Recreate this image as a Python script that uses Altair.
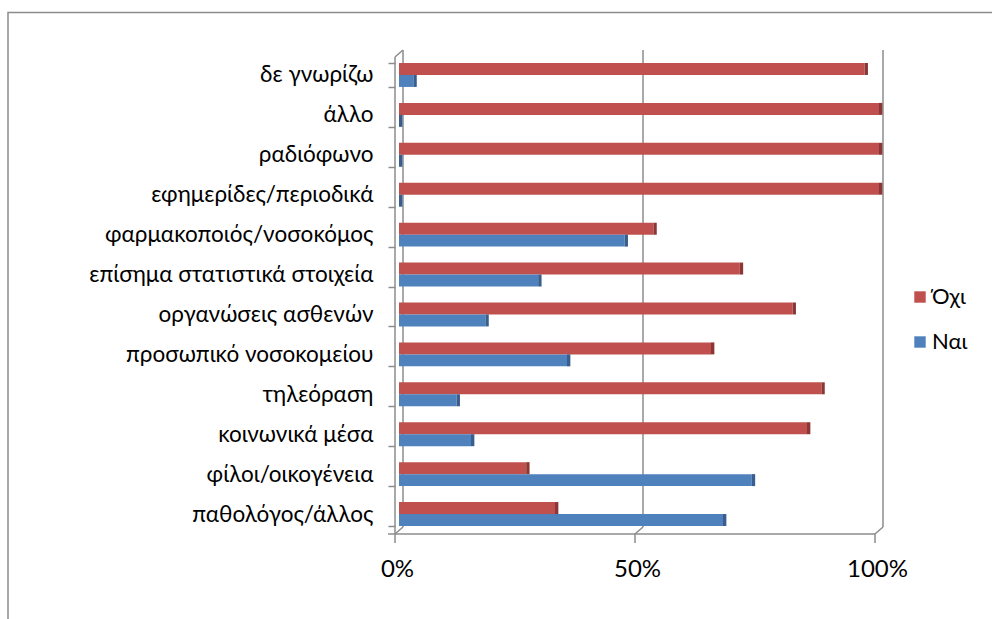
import altair as alt
import pandas as pd

# Sources of information, top to bottom as listed on the chart
categories = [
    "δε γνωρίζω\u00a0",
    "άλλο\u00a0",
    "ραδιόφωνο",
    "εφημερίδες/περιοδικά",
    "φαρμακοποιός/νοσοκόμος",
    "επίσημα στατιστικά στοιχεία",
    "οργανώσεις ασθενών\u00a0",
    "προσωπικό νοσοκομείου",
    "τηλεόραση",
    "κοινωνικά μέσα",
    "φίλοι/οικογένεια",
    "παθολόγος/άλλος",
]
# Percentage of answers per source
yes_share = [3, 0, 0, 0, 47, 29, 18, 35, 12, 15, 73.5, 67.5]
no_share = [97, 100, 100, 100, 53, 71, 82, 65, 88, 85, 26.5, 32.5]

series_names = ["Όχι", "Ναι"]
series_colors = ["#C0504D", "#4F81BD"]
side_colors = ["#8A3735", "#375E8E"]
x_ticks = [0, 50, 100]

rows = []
for cat, yes, no in zip(categories, yes_share, no_share):
    rows.append({"category": cat, "series": "Όχι", "share": no})
    rows.append({"category": cat, "series": "Ναι", "share": yes})
df = pd.DataFrame(rows)
ticks = pd.DataFrame({"tick": x_ticks})
ends = pd.DataFrame({"lo": [min(x_ticks)], "hi": [max(x_ticks)]})

W, H = 480, 479
FONT = "Lato"
LINE = "#8C8C8C"

x_scale = alt.Scale(domain=[0, 100], nice=False, zero=True)
y_scale = alt.Scale(domain=categories, paddingInner=0.4, paddingOuter=0.2)
off_scale = alt.Scale(domain=series_names, paddingInner=0, paddingOuter=0)

x_axis = alt.Axis(
    values=x_ticks, labelExpr="datum.value + '%'", domain=False, ticks=False,
    grid=False, labelFont=FONT, labelFontSize=24, labelColor="#000000",
    labelPadding=23, labelOffset=-2, labelFlush=False, title=None,
)
y_axis = alt.Axis(
    domain=False, ticks=True, tickBand="extent", tickOffset=5, tickSize=7,
    tickColor=LINE, tickWidth=1.5, offset=4, grid=False,
    labelFont=FONT, labelFontSize=22.5, labelColor="#000000",
    labelPadding=15, labelLimit=400, title=None,
)

# Back wall gridlines, shifted back for the depth effect
back_grid = alt.Chart(ticks).mark_rule(color=LINE, strokeWidth=1.5, xOffset=4).encode(
    x=alt.X("tick:Q", scale=x_scale, axis=x_axis),
    y=alt.value(-5), y2=alt.value(H - 7),
)
# Floor diagonals joining the wall to the front edge
floor_diag = alt.Chart(ticks).mark_rule(
    color=LINE, strokeWidth=1.5, xOffset=-4, x2Offset=4
).encode(x="tick:Q", x2="tick:Q", y=alt.value(H), y2=alt.value(H - 7))
# Front edge of the floor
floor_front = alt.Chart(ends).mark_rule(
    color=LINE, strokeWidth=1.5, xOffset=-11, x2Offset=-4
).encode(x="lo:Q", x2="hi:Q", y=alt.value(H))
# Tick stubs under the floor
x_stubs = alt.Chart(ticks).mark_rule(color=LINE, strokeWidth=1.5, xOffset=-4).encode(
    x="tick:Q", y=alt.value(H), y2=alt.value(H + 9)
)
# Front edge of the side wall and its top corner
left_front = alt.Chart(ends).mark_rule(color=LINE, strokeWidth=1.5, xOffset=-4).encode(
    x="lo:Q", y=alt.value(2), y2=alt.value(H)
)
left_top = alt.Chart(ends).mark_rule(
    color=LINE, strokeWidth=1.5, xOffset=-4, x2Offset=4
).encode(x="lo:Q", x2="lo:Q", y=alt.value(2), y2=alt.value(-5))

bars = alt.Chart(df).mark_bar().encode(
    x=alt.X("share:Q", scale=x_scale),
    y=alt.Y("category:N", scale=y_scale, axis=y_axis, sort=categories),
    yOffset=alt.YOffset("series:N", scale=off_scale, sort=series_names),
    color=alt.Color(
        "series:N",
        scale=alt.Scale(domain=series_names, range=series_colors),
        sort=series_names,
        legend=alt.Legend(
            title=None, orient="none", legendX=510, legendY=231,
            symbolType="square", symbolSize=130, symbolStrokeWidth=0,
            labelFont=FONT, labelFontSize=22, labelColor="#000000",
            rowPadding=23, padding=0, labelOffset=1,
        ),
    ),
)
# Darker end caps giving the bars their side face
caps = alt.Chart(df).transform_calculate(end="datum.share + 0.7").mark_bar().encode(
    x=alt.X("share:Q", scale=x_scale),
    x2="end:Q",
    y=alt.Y("category:N", scale=y_scale, sort=categories),
    yOffset=alt.YOffset("series:N", scale=off_scale, sort=series_names),
    color=alt.Color(
        "series:N",
        scale=alt.Scale(domain=series_names, range=side_colors),
        legend=None,
    ),
)
# Outer chart frame
frame = alt.Chart(ends).mark_rect(
    fill=None, stroke=LINE, strokeWidth=1.5
).encode(x=alt.value(-391), y=alt.value(-42.5), x2=alt.value(700), y2=alt.value(700))

chart = (
    alt.layer(frame, back_grid, floor_diag, floor_front, x_stubs, left_front, left_top, bars, caps)
    .resolve_scale(color="independent")
    .properties(
        width=W, height=H,
        padding={"left": 399, "top": 55, "right": 113, "bottom": 85},
        autosize=alt.AutoSizeParams(type="none"),
        background="#FFFFFF",
    )
    .configure_view(strokeWidth=0)
)

chart.save("out.html", embed_options={"renderer": "svg", "actions": False})
